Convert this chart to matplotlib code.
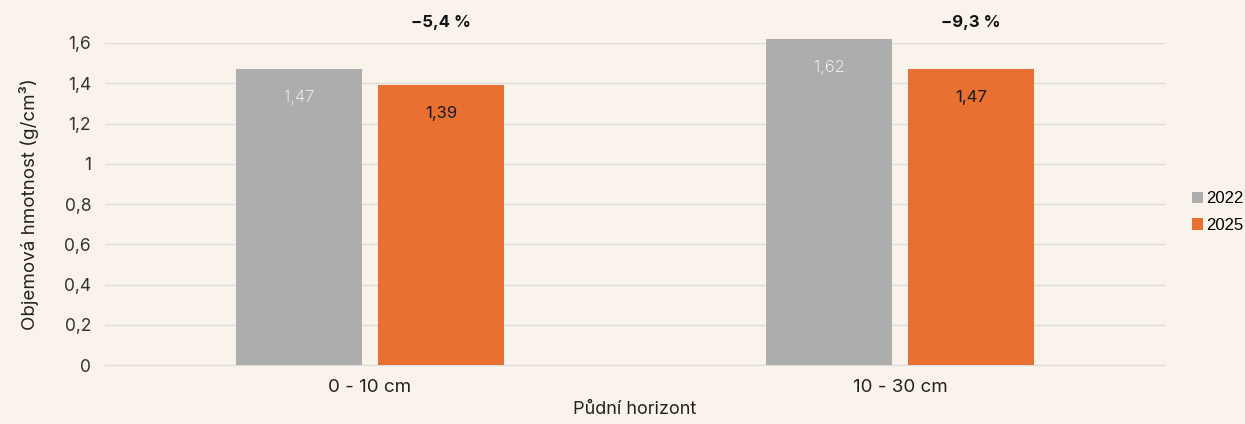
import matplotlib
matplotlib.use("Agg")
import matplotlib.pyplot as plt
import numpy as np

categories = ["0 - 10 cm", "10 - 30 cm"]
values_2022 = [1.47, 1.62]
values_2025 = [1.39, 1.47]
changes = ["-5,4 %", "-9,3 %"]
yticks = [0, 0.2, 0.4, 0.6, 0.8, 1.0, 1.2, 1.4, 1.6]

bg = "#faf3ec"
gray = "#adadad"
orange = "#e87132"
font = "Inter"

def fmt(v):
    s = f"{v:g}"
    return s.replace(".", ",")

fig = plt.figure(figsize=(12.45, 4.24), dpi=100, facecolor=bg)
ax = fig.add_axes([105/1245, 59/424, 1060/1245, 322/424], facecolor=bg)

x = np.arange(len(categories))
w = 0.236
off = 0.134
b1 = ax.bar(x - off, values_2022, w, color=gray, label="2022", zorder=3, clip_on=False)
b2 = ax.bar(x + off, values_2025, w, color=orange, label="2025", zorder=3, clip_on=False)

for rect, v in zip(b1, values_2022):
    ax.text(rect.get_x() + rect.get_width()/2, v - 0.14, fmt(v), ha="center", va="center",
            color="white", fontsize=12, family=font, fontweight="light")
for rect, v in zip(b2, values_2025):
    ax.text(rect.get_x() + rect.get_width()/2, v - 0.14, fmt(v), ha="center", va="center",
            color="#1a1a1a", fontsize=12, family=font, fontweight="normal")
for rect, c in zip(b2, changes):
    ax.text(rect.get_x() + rect.get_width()/2, 1.7, c.replace("-", "\u2212"), ha="center", va="center",
            color="#111111", fontsize=12, family=font, fontweight="bold")

ax.set_xlim(-0.5, 1.5)
ax.set_ylim(0, 1.6)
ax.set_yticks(yticks)
ax.set_yticklabels([fmt(t) for t in yticks], family=font, fontsize=12.5, color="#333333")
ax.set_xticks(x)
ax.set_xticklabels(categories, family=font, fontsize=13.5, color="#222222")
ax.tick_params(axis="both", length=0, pad=10)
ax.tick_params(axis="x", pad=10)
ax.grid(axis="y", color="#dcdcdc", linewidth=1, zorder=0)
for s in ["top", "right", "left"]:
    ax.spines[s].set_visible(False)
ax.spines["bottom"].set_color("#dcdcdc")
ax.set_ylabel("Objemová hmotnost (g/cm³)", family=font, fontsize=13.5, color="#222222", labelpad=18)
ax.set_xlabel("Půdní horizont", family=font, fontsize=13, color="#222222", labelpad=4)

leg = fig.legend(handles=[b1, b2], labels=["2022", "2025"], loc="center left",
                 bbox_to_anchor=(1180/1245, 0.5), frameon=False,
                 prop={"family": "Liberation Sans", "size": 12},
                 handlelength=0.7, handleheight=0.7, handletextpad=0.15, labelspacing=0.7,
                 borderpad=0.2)

fig.savefig("out.png", dpi=100, facecolor=bg)
